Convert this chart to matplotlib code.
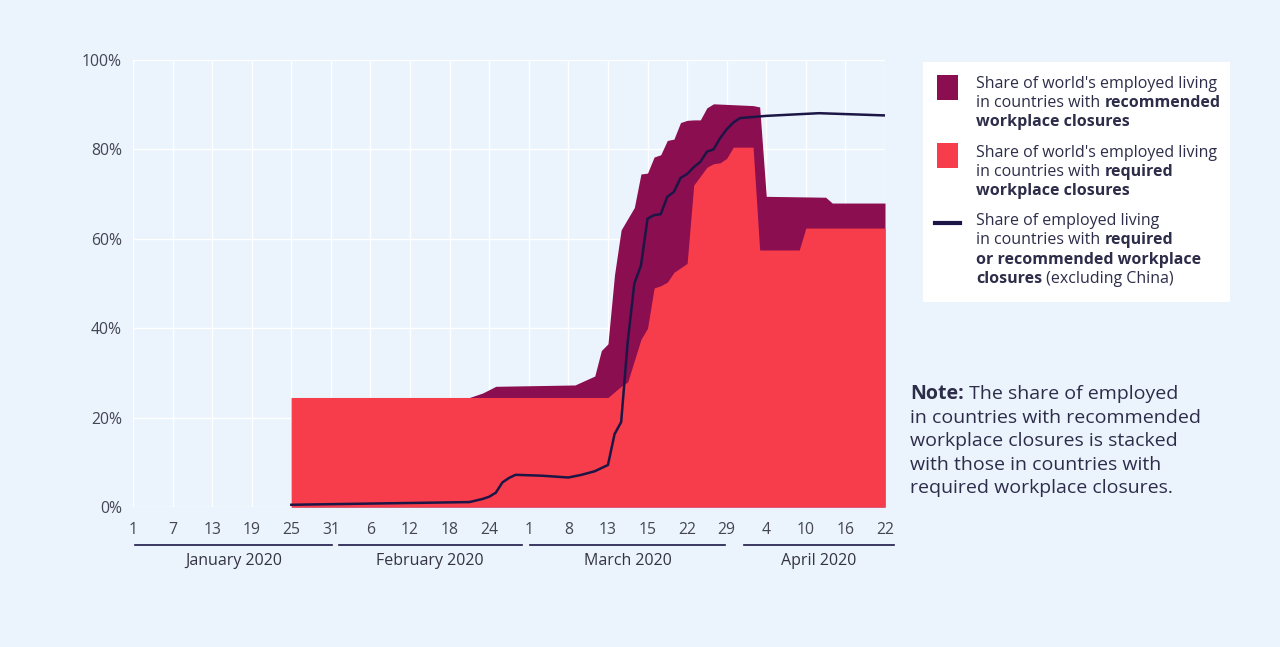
import numpy as np
import matplotlib as mpl
import matplotlib.pyplot as plt
from matplotlib.patches import Rectangle
from matplotlib.lines import Line2D

mpl.rcParams['font.family'] = ['Open Sans', 'DejaVu Sans']

# x axis is an evenly spaced index of observation points (tick every 6th)
tick_pos = list(range(0, 115, 6))
tick_labels = ['1', '7', '13', '19', '25', '31', '6', '12', '18', '24',
               '1', '8', '13', '15', '22', '29', '4', '10', '16', '22']
months = ['January 2020', 'February 2020', 'March 2020', 'April 2020']
month_start = [0.3, 31.2, 60.2, 92.6]
month_end = [30.2, 58.9, 89.8, 115.3]

# required workplace closures (share of world's employed, %)
req_x = [24, 72, 74, 75, 77, 78, 79, 80, 81, 82, 83, 84, 85, 86, 87, 88, 89,
         90, 91, 94, 95, 101, 102, 114]
req_y = [24.5, 24.5, 27, 28, 37.5, 40, 49, 49.5, 50.3, 52.5, 53.5, 54.5, 72,
         74, 76, 76.8, 77, 78, 80.5, 80.5, 57.5, 57.5, 62.4, 62.4]

# required + recommended (top of the stacked area, %)
tot_x = [24, 51, 53, 55, 67, 70, 71, 72, 73, 74, 75, 76, 77, 78, 79, 80, 81,
         82, 83, 84, 85, 86, 87, 88, 94, 95, 96, 105, 106, 114]
tot_y = [24.5, 24.5, 25.5, 27, 27.3, 29.3, 35, 36.5, 52, 62, 64.5, 67, 74.5,
         74.7, 78.3, 78.8, 82, 82.3, 86, 86.5, 86.6, 86.6, 89.3, 90.2, 89.8,
         89.5, 69.5, 69.3, 68, 68]

# required or recommended, excluding China (%)
line_x = [24, 51, 53, 54, 55, 56, 57, 58, 62, 66, 68, 70, 72, 73, 74, 75, 76,
          77, 78, 79, 80, 81, 82, 83, 84, 85, 86, 87, 88, 89, 90, 91, 92, 96,
          104, 114]
line_y = [0.5, 1.1, 1.8, 2.3, 3.2, 5.5, 6.5, 7.2, 7.0, 6.6, 7.2, 8.0, 9.4,
          16.3, 19, 37, 50, 54, 64.5, 65.3, 65.5, 69.4, 70.5, 73.6, 74.5, 76,
          77.2, 79.5, 80, 82.5, 84.5, 86, 87, 87.5, 88.1, 87.6]

bg = '#ebf4fd'
maroon = '#8b0e50'
red = '#f73d4b'
navy = '#1c1646'
txt = '#2d2d4a'

W, H = 1280, 647
fig = plt.figure(figsize=(W / 100, H / 100), dpi=100, facecolor=bg)
ax = fig.add_axes([133 / W, 1 - 507 / H, 752 / W, 447 / H])
ax.set_facecolor(bg)

ax.fill_between(tot_x, 0, tot_y, color=maroon, lw=0, zorder=2)
ax.fill_between(req_x, 0, req_y, color=red, lw=0, zorder=3)
ax.plot(line_x, line_y, color=navy, lw=1.8, zorder=4)

ax.set_xlim(0, 114)
ax.set_ylim(0, 100)
ax.set_xticks(tick_pos)
ax.set_xticklabels(tick_labels)
ax.set_yticks(range(0, 101, 20))
ax.set_yticklabels([f'{v}%' for v in range(0, 101, 20)])
ax.grid(True, color='white', lw=1, zorder=0)
ax.set_axisbelow(True)
for s in ax.spines.values():
    s.set_visible(False)
ax.tick_params(length=0, labelsize=11.3, labelcolor='#444455')
ax.tick_params(axis='x', pad=11)
ax.tick_params(axis='y', pad=8)

trans = ax.get_xaxis_transform()
for name, a, b in zip(months, month_start, month_end):
    ax.add_line(Line2D([a, b], [-0.086, -0.086], transform=trans, color=navy,
                       lw=1.2, clip_on=False))
    ax.text((a + b) / 2, -0.12, name, transform=trans, ha='center', va='center',
            fontsize=11.5, color='#333344', clip_on=False)

# legend box
fig.add_artist(Rectangle((923 / W, 1 - 302 / H), 307 / W, 240 / H,
                         transform=fig.transFigure, facecolor='white',
                         edgecolor='none'))
fig.add_artist(Rectangle((937 / W, 1 - 100 / H), 21 / W, 25 / H,
                         transform=fig.transFigure, facecolor=maroon,
                         edgecolor='none'))
fig.add_artist(Rectangle((937 / W, 1 - 168 / H), 21 / W, 25 / H,
                         transform=fig.transFigure, facecolor=red,
                         edgecolor='none'))
fig.add_artist(Line2D([935 / W, 960 / W], [1 - 223 / H, 1 - 223 / H],
                      transform=fig.transFigure, color=navy, lw=3))

renderer = fig.canvas.get_renderer()


def rich_line(px, py, segments, size):
    x = px / W
    for s, bold in segments:
        t = fig.text(x, 1 - py / H, s, fontsize=size, color=txt,
                     fontweight='bold' if bold else 'normal', va='center')
        x += t.get_window_extent(renderer).width / W


leg_lines = [
    (84, [("Share of world's employed living", False)]),
    (103, [("in countries with ", False), ("recommended", True)]),
    (122, [("workplace closures", True)]),
    (153, [("Share of world's employed living", False)]),
    (172, [("in countries with ", False), ("required", True)]),
    (191, [("workplace closures", True)]),
    (221, [("Share of employed living", False)]),
    (240, [("in countries with ", False), ("required", True)]),
    (260, [("or recommended workplace", True)]),
    (279, [("closures", True), (" (excluding China)", False)]),
]
for py, segs in leg_lines:
    rich_line(976, py, segs, 11.5)

note_lines = [
    (394, [("Note:", True), (" The share of employed", False)]),
    (418, [("in countries with recommended", False)]),
    (441, [("workplace closures is stacked", False)]),
    (465, [("with those in countries with", False)]),
    (488, [("required workplace closures.", False)]),
]
for py, segs in note_lines:
    rich_line(910, py, segs, 14)

fig.savefig('out.png', dpi=100, facecolor=bg)
